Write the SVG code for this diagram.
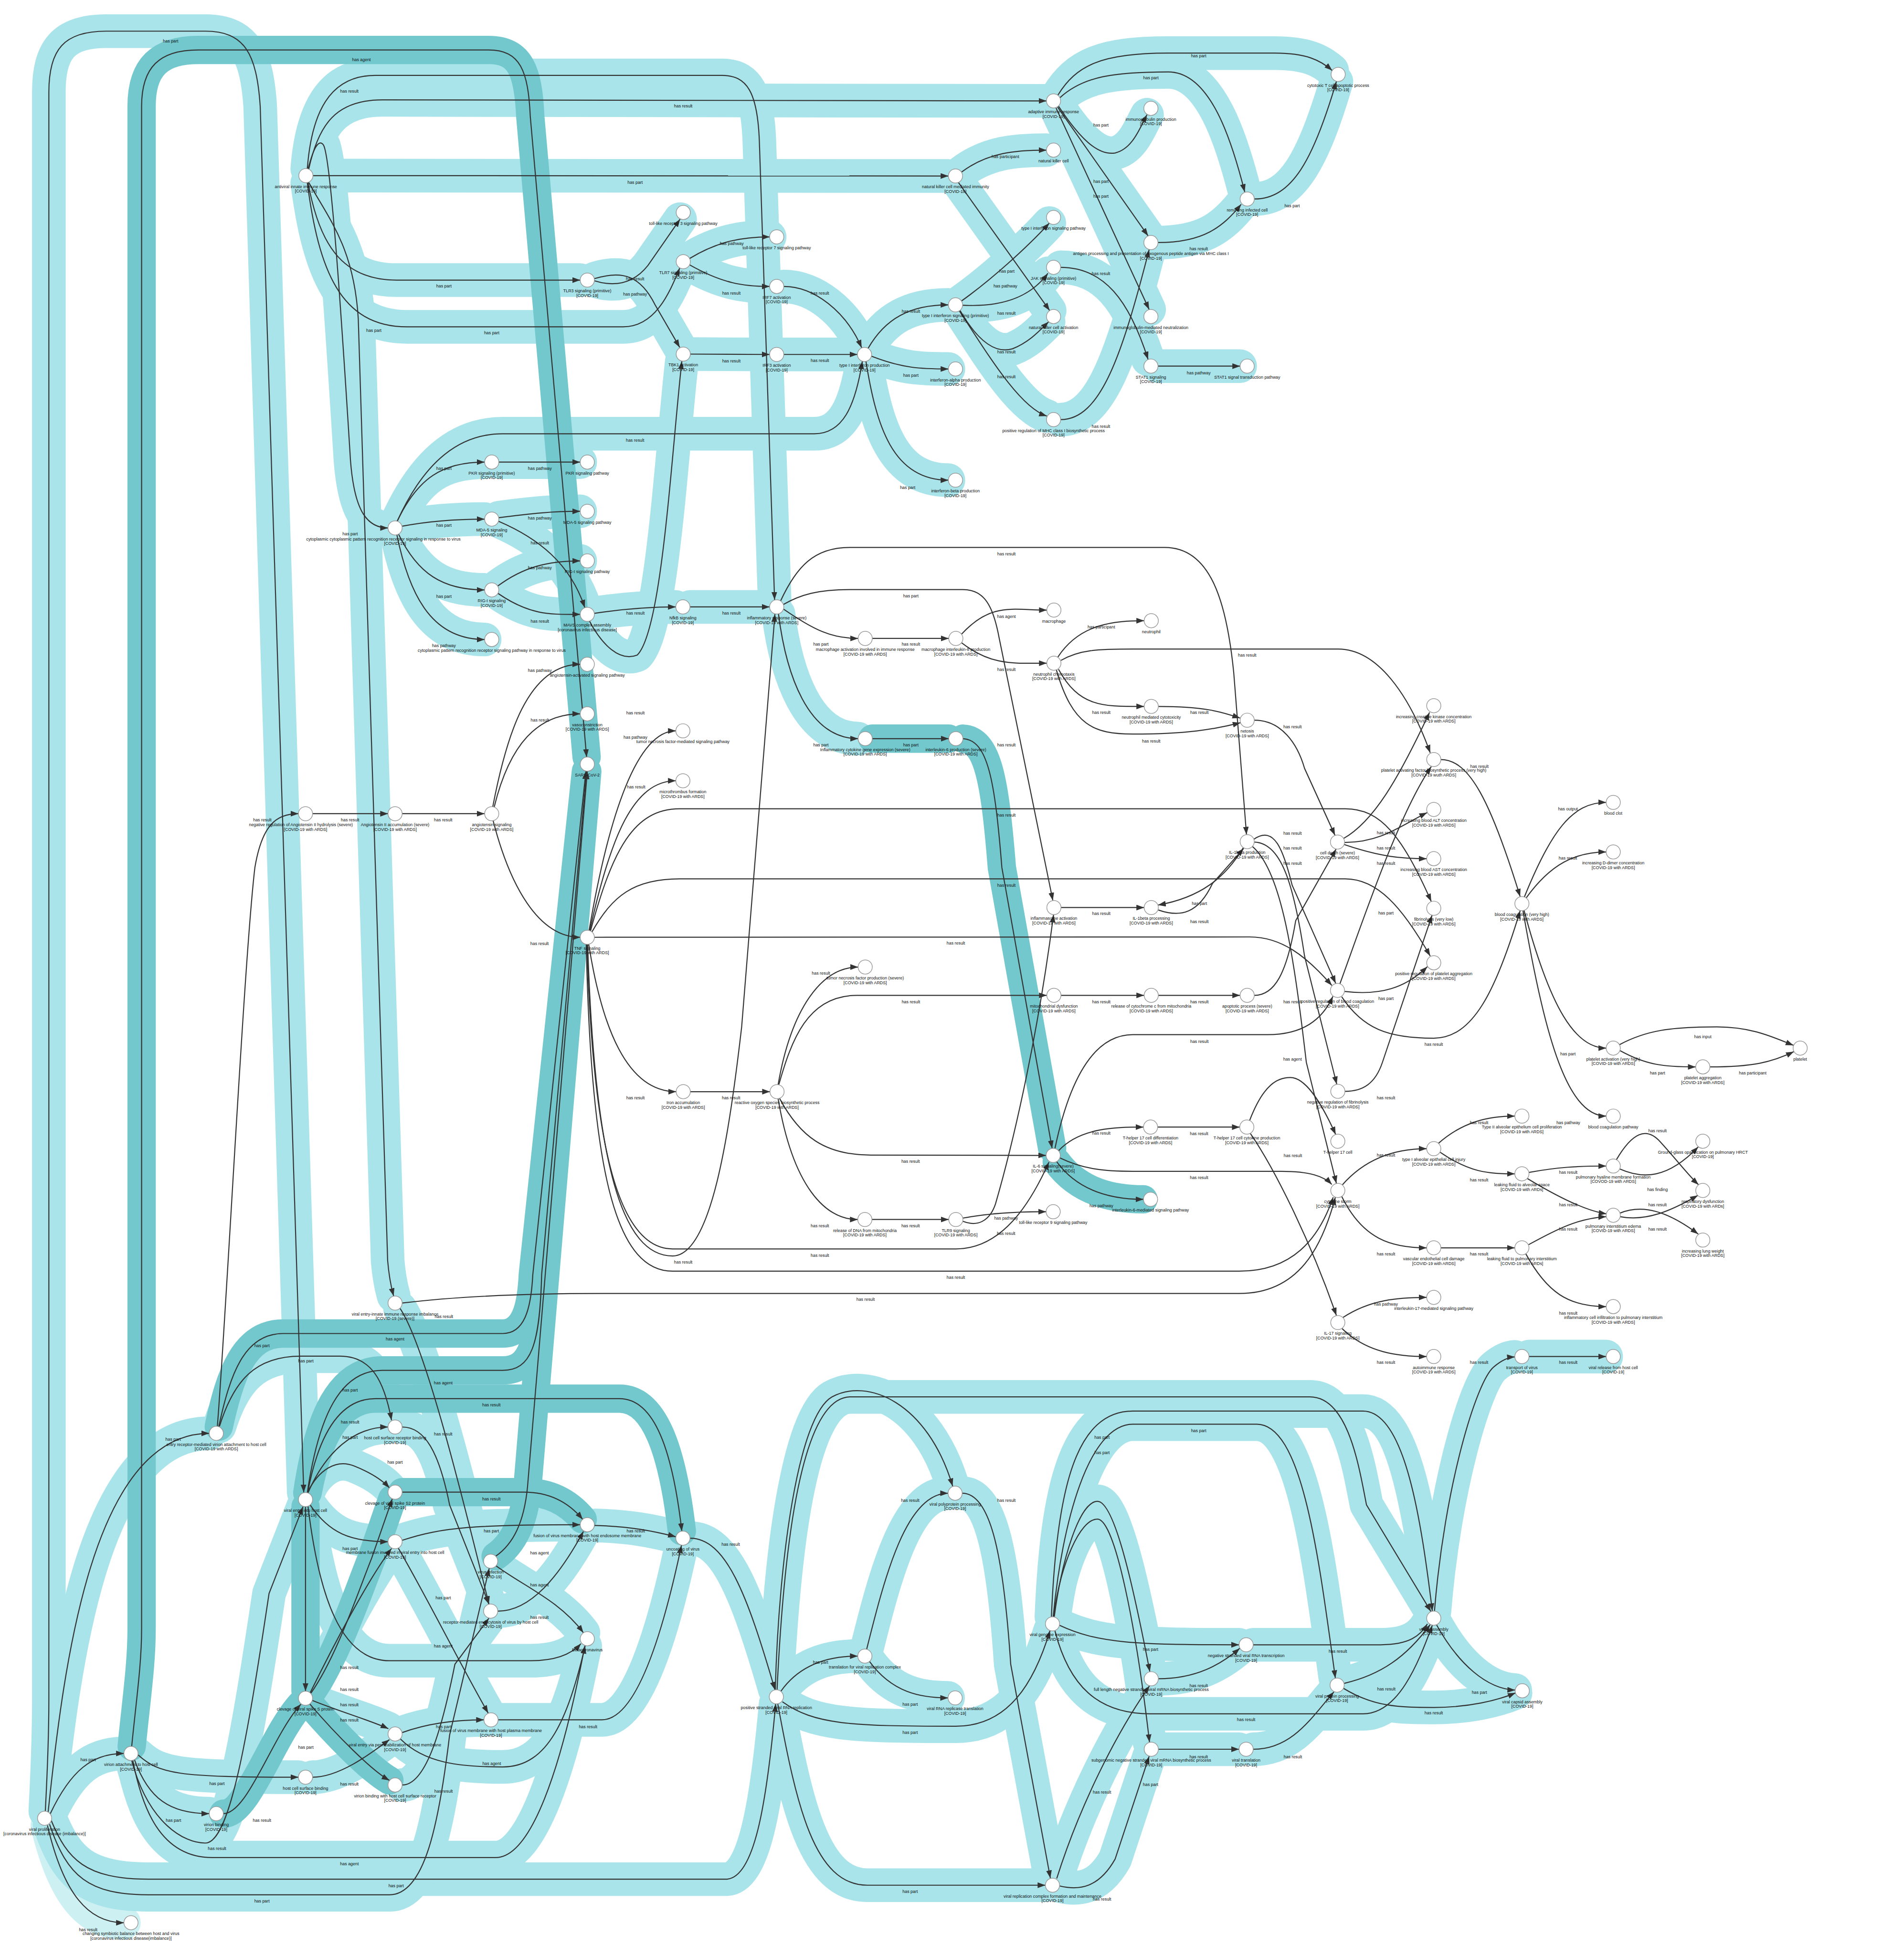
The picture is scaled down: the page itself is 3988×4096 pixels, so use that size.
<svg xmlns="http://www.w3.org/2000/svg" width="3988" height="4096" viewBox="0 0 3988 4096">
<style>
.nd circle{fill:#fff;stroke:#9a9a9a;stroke-width:2}
.nd text,.lb{font-family:"Liberation Sans",Arial,sans-serif;font-size:12px;fill:#111;text-anchor:middle}
.e{fill:none;stroke:#333;stroke-width:3;marker-end:url(#a)}
.bl,.bd,.bp{fill:none;stroke-linecap:round;stroke-linejoin:round}
.bl{stroke:#a8e4e9;stroke-width:95}
.bd{stroke:#73c8cd;stroke-width:80}
.bp{stroke:#cdf0f3;stroke-width:95}
</style>
<defs>
<marker id="a" markerUnits="userSpaceOnUse" markerWidth="24" markerHeight="18" refX="22" refY="8" orient="auto"><path d="M0,0 L22,8 L0,16 z" fill="#333"/></marker>
</defs>
<rect width="3988" height="4096" fill="#fff"/>
<g transform="scale(0.7415)">
<g id="highlights">
<path class="bp" d="M134,5155 C180,5350 250,5430 350,5430"/>
<path class="bl" d="M884,496 L2679,497"/>
<path class="bl" d="M870,515 C900,680 960,791 1120,791 L1639,791"/>
<path class="bl" d="M868,516 C900,760 960,923 1150,923 L1760,923 C1850,923 1890,830 1920,757"/>
<path class="bl" d="M872,478 C900,350 950,282 1080,282 L2956,285"/>
<path class="bl" d="M868,477 C880,320 930,213 1060,213 L2040,213 C2110,213 2140,260 2145,400 L2188,1694"/>
<path class="bl" d="M870,478 C885,420 900,390 914,410 C935,450 965,900 990,1300 C1000,1430 1030,1491 1096,1491"/>
<path class="bl" d="M872,515 C930,620 1000,700 1012,900 L1095,3560 C1100,3620 1108,3645 1112,3660"/>
<path class="bl" d="M128,5115 C134,5000 138,4900 138,4800 L138,260 C138,140 180,88 300,88 L580,88 C690,88 725,150 735,300 L858,4215"/>
<path class="bl" d="M1665,1754 C1700,1820 1750,1870 1800,1850 C1870,1780 1895,1300 1926,1020"/>
<path class="bl" d="M1679,793 C1740,812 1790,800 1830,750 L1921,619"/>
<path class="bl" d="M1679,787 C1760,762 1810,780 1850,860 L1920,981"/>
<path class="bl" d="M1948,730 C2030,680 2100,669 2174,669"/>
<path class="bl" d="M1948,748 C2040,800 2100,809 2174,809"/>
<path class="bl" d="M1950,1000 L2174,1001"/>
<path class="bl" d="M2214,809 C2300,809 2390,880 2434,982"/>
<path class="bl" d="M2214,1001 L2422,1001"/>
<path class="bl" d="M1122,1472 C1200,1300 1300,1225 1420,1225 L2300,1225 C2380,1225 2415,1150 2436,1020"/>
<path class="bl" d="M2452,984 C2500,900 2570,861 2679,861"/>
<path class="bl" d="M2462,1006 C2550,1040 2600,1042 2679,1042"/>
<path class="bl" d="M2446,1020 C2475,1200 2520,1356 2679,1356"/>
<path class="bl" d="M2716,486 C2790,430 2870,424 2956,424"/>
<path class="bl" d="M2707,515 L2965,877"/>
<path class="bl" d="M2716,850 C2800,790 2900,700 2964,630"/>
<path class="bl" d="M2719,862 C2830,868 2910,840 2960,772"/>
<path class="bl" d="M2712,877 C2760,960 2810,1000 2860,985 C2910,965 2940,930 2962,909"/>
<path class="bl" d="M2710,878 C2790,1000 2880,1150 2957,1175"/>
<path class="bl" d="M2996,755 C3120,755 3190,850 3243,1015"/>
<path class="bl" d="M3271,1034 L3503,1034"/>
<path class="bl" d="M2996,1185 C3110,1185 3170,1000 3246,705"/>
<path class="bl" d="M2988,269 C3040,185 3110,150 3300,150 L3600,150 C3690,150 3730,170 3763,199"/>
<path class="bl" d="M2990,300 C3050,390 3100,440 3150,432 C3200,420 3220,360 3240,324"/>
<path class="bl" d="M2994,276 C3060,215 3150,203 3300,203 C3420,203 3480,400 3516,542"/>
<path class="bl" d="M2987,302 L3243,666"/>
<path class="bl" d="M2983,305 L3246,874"/>
<path class="bl" d="M3271,685 C3400,685 3455,640 3506,577"/>
<path class="bl" d="M3543,562 C3650,562 3710,450 3775,230"/>
<path class="bl" d="M1122,1472 C1180,1350 1250,1305 1369,1305"/>
<path class="bl" d="M1136,1486 C1220,1470 1300,1466 1369,1466"/>
<path class="bl" d="M1126,1509 C1180,1620 1250,1666 1369,1666"/>
<path class="bl" d="M1121,1510 C1160,1700 1230,1806 1369,1806"/>
<path class="bl" d="M1409,1305 L1639,1305"/>
<path class="bl" d="M1409,1462 C1500,1450 1560,1444 1639,1444"/>
<path class="bl" d="M1408,1472 C1520,1520 1610,1590 1652,1716"/>
<path class="bl" d="M1406,1655 C1480,1600 1550,1584 1639,1584"/>
<path class="bl" d="M1407,1676 C1500,1740 1560,1735 1639,1735"/>
<path class="bl" d="M1679,1732 C1760,1720 1830,1714 1909,1714"/>
<path class="bl" d="M1949,1714 L2174,1714"/>
<path class="bl" d="M2199,1734 C2220,1900 2280,2086 2424,2086"/>
<path class="bl" d="M4319,3831 L4537,3831"/>
<path class="bl" d="M4052,4550 C4080,4200 4170,3900 4220,3860 C4240,3843 4258,3833 4279,3832"/>
<path class="bl" d="M1949,4344 C2050,4344 2110,4500 2189,4772"/>
<path class="bl" d="M2206,4776 C2260,4700 2340,4677 2423,4677"/>
<path class="bl" d="M2448,4658 C2500,4450 2560,4217 2678,4217"/>
<path class="bl" d="M2456,4692 C2520,4780 2600,4795 2678,4795"/>
<path class="bl" d="M2210,4806 C2300,4870 2400,4875 2700,4875 C2850,4875 2922,4750 2966,4605"/>
<path class="bl" d="M2197,4812 C2250,5100 2300,5324 2450,5324 L2953,5324"/>
<path class="bl" d="M2718,4217 C2800,4217 2835,4400 2855,4700 L2967,5304"/>
<path class="bl" d="M2993,4590 C3100,4640 3200,4645 3500,4645"/>
<path class="bl" d="M2978,4566 C3000,4400 3050,4240 3100,4240 C3150,4240 3205,4500 3248,4721"/>
<path class="bl" d="M2976,4566 C2995,4420 3050,4290 3100,4290 C3150,4290 3210,4600 3247,4920"/>
<path class="bl" d="M2975,4566 C3000,4300 3075,4022 3200,4022 L3550,4022 C3680,4022 3725,4400 3772,4739"/>
<path class="bl" d="M2970,4566 C2985,4200 3040,3985 3200,3985 L3850,3985 C3970,3985 4015,4300 4046,4550"/>
<path class="bl" d="M3272,4741 C3380,4741 3450,4700 3502,4655"/>
<path class="bl" d="M3540,4645 L3900,4645 C3980,4645 4012,4620 4032,4586"/>
<path class="bl" d="M3272,4940 L3500,4940"/>
<path class="bl" d="M3540,4940 C3650,4940 3705,4850 3768,4778"/>
<path class="bl" d="M3797,4754 C3900,4730 3972,4680 4040,4588"/>
<path class="bl" d="M3795,4768 C3880,4820 3950,4822 4050,4822 C4150,4822 4230,4802 4281,4781"/>
<path class="bl" d="M4058,4589 C4120,4700 4200,4770 4280,4773"/>
<path class="bl" d="M2980,4606 C3020,4760 3100,4840 3250,4840 L3850,4840 C3950,4840 4005,4700 4046,4590"/>
<path class="bl" d="M2985,5305 C3050,5100 3150,4900 3247,4761"/>
<path class="bl" d="M2993,5326 C3050,5340 3105,5330 3150,5250 L3246,4960"/>
<path class="bl" d="M2190,4772 C2200,4400 2255,4000 2350,3945 C2450,3890 2620,3960 2691,4197"/>
<path class="bl" d="M2195,4772 C2215,4350 2265,3950 2400,3945 L3700,3945 C3810,3945 3840,4150 3860,4250 L4042,4551"/>
<path class="bl" d="M136,5117 C180,4700 260,4048 591,4048"/>
<path class="bl" d="M142,5122 C200,5000 260,4952 350,4952"/>
<path class="bl" d="M145,5142 C190,5250 240,5307 420,5307 L2050,5307 C2130,5307 2165,5100 2191,4812"/>
<path class="bl" d="M140,5152 C190,5300 250,5351 420,5351 L1100,5351 C1200,5351 1240,5150 1270,4900 L1382,4429"/>
<path class="bl" d="M375,4971 C400,5100 450,5246 600,5246 L1400,5246 C1500,5246 1585,5000 1652,4648"/>
<path class="bl" d="M390,4956 C450,5010 500,5019 843,5019"/>
<path class="bl" d="M380,4970 C420,5080 480,5122 591,5122"/>
<path class="bl" d="M372,4972 C420,5150 520,5205 580,5205 C650,5205 700,4900 760,4500 L856,4255"/>
<path class="bl" d="M883,5019 C960,5019 1050,4950 1100,4913"/>
<path class="bl" d="M882,4802 C950,4830 1050,4860 1097,4882"/>
<path class="bl" d="M876,4781 C940,4650 1040,4460 1106,4373"/>
<path class="bl" d="M1136,4893 C1200,4870 1280,4857 1367,4857"/>
<path class="bl" d="M1131,4911 C1200,4980 1300,4990 1420,4990 C1550,4990 1605,4850 1653,4648"/>
<path class="bl" d="M1136,5041 C1200,5041 1245,4900 1285,4700 L1381,4570"/>
<path class="bl" d="M1407,4857 L1700,4857 C1800,4857 1875,4600 1925,4364"/>
<path class="bl" d="M620,4028 C660,3900 720,3830 850,3830 L960,3830 C1050,3830 1085,3900 1106,4011"/>
<path class="bl" d="M868,4216 C900,4150 950,4120 1000,4140 C1050,4160 1080,4180 1100,4202"/>
<path class="bl" d="M876,4250 C930,4330 990,4354 1096,4354"/>
<path class="bl" d="M870,4216 C920,4100 1000,4030 1096,4030"/>
<path class="bl" d="M1136,4030 C1200,4030 1240,4100 1270,4250 L1381,4530"/>
<path class="bl" d="M1136,4350 C1250,4312 1350,4306 1639,4306"/>
<path class="bl" d="M1125,4372 C1200,4500 1300,4700 1379,4838"/>
<path class="bl" d="M1401,4422 C1480,4480 1580,4520 1648,4611"/>
<path class="bl" d="M1406,4550 C1500,4550 1580,4450 1648,4325"/>
<path class="bl" d="M1679,4308 C1780,4310 1850,4325 1909,4340"/>
<path class="bl" d="M870,4254 C900,4500 960,4690 1100,4690 L1500,4690 C1580,4690 1620,4665 1641,4642"/>
<path class="bl" d="M1130,3695 C1200,3800 1300,4200 1381,4530"/>
<path class="bd" d="M372,4932 C385,4800 400,4700 400,4600 L400,300 C400,190 450,141 560,141 L1380,141 C1470,141 1492,200 1498,330 L1657,2138"/>
<path class="bd" d="M618,4029 C650,3880 690,3766 800,3766 L1420,3766 C1480,3766 1500,3700 1505,3600 L1655,2178"/>
<path class="bd" d="M868,4216 C900,4000 960,3870 1080,3870 L1420,3870 C1500,3870 1525,3800 1530,3600 L1657,2178"/>
<path class="bd" d="M1400,4395 C1450,4360 1480,4300 1490,4200 L1659,2178"/>
<path class="bd" d="M2464,2086 L2680,2086"/>
<path class="bd" d="M2720,2086 C2790,2090 2810,2200 2830,2450 L2972,3243"/>
<path class="bd" d="M2985,3281 C3050,3370 3150,3387 3230,3387"/>
<path class="bd" d="M631,5122 C700,5122 770,4900 850,4813"/>
<path class="bd" d="M875,4812 C950,4900 1050,5000 1100,5028"/>
<path class="bd" d="M878,4782 C950,4680 1010,4500 1050,4400 L1108,4233"/>
<path class="bd" d="M863,4255 L863,4776"/>
<path class="bd" d="M1136,4214 L1480,4214 C1560,4214 1612,4250 1646,4291"/>
<path class="bd" d="M869,4216 C900,4050 960,3950 1060,3950 L1750,3950 C1850,3950 1900,4100 1926,4324"/>
</g>
<g id="connectors">
<g><path class="e" d="M884,496 L2679,497"/><text class="lb" x="1794" y="519">has part</text></g>
<g><path class="e" d="M870,515 C900,680 960,791 1120,791 L1639,791"/><text class="lb" x="1254" y="812">has part</text></g>
<g><path class="e" d="M868,516 C900,760 960,923 1150,923 L1760,923 C1850,923 1890,830 1920,757"/><text class="lb" x="1389" y="944">has part</text></g>
<g><path class="e" d="M872,478 C900,350 950,282 1080,282 L2956,285"/><text class="lb" x="1930" y="304">has result</text></g>
<g><path class="e" d="M868,477 C880,320 930,213 1060,213 L2040,213 C2110,213 2140,260 2145,400 L2188,1694"/><text class="lb" x="987" y="261">has result</text></g>
<g><path class="e" d="M870,478 C885,420 900,390 914,410 C935,450 965,900 990,1300 C1000,1430 1030,1491 1096,1491"/><text class="lb" x="989" y="1512">has part</text></g>
<g><path class="e" d="M872,515 C930,620 1000,700 1012,900 L1095,3560 C1100,3620 1108,3645 1112,3660"/><text class="lb" x="1056" y="937">has part</text></g>
<g><path class="e" d="M128,5115 C134,5000 138,4900 138,4800 L138,260 C138,140 180,88 300,88 L580,88 C690,88 725,150 735,300 L858,4215"/><text class="lb" x="482" y="120">has part</text></g>
<g><path class="e" d="M372,4932 C385,4800 400,4700 400,4600 L400,300 C400,190 450,141 560,141 L1380,141 C1470,141 1492,200 1498,330 L1657,2138"/><text class="lb" x="1021" y="173">has agent</text></g>
<g><path class="e" d="M618,4029 C650,3880 690,3766 800,3766 L1420,3766 C1480,3766 1500,3700 1505,3600 L1655,2178"/><text class="lb" x="1116" y="3785">has agent</text><text class="lb" x="740" y="3805">has part</text></g>
<g><path class="e" d="M868,4216 C900,4000 960,3870 1080,3870 L1420,3870 C1500,3870 1525,3800 1530,3600 L1657,2178"/><text class="lb" x="1252" y="3910">has agent</text></g>
<g><path class="e" d="M1400,4395 C1450,4360 1480,4300 1490,4200 L1659,2178"/><text class="lb" x="1524" y="4390">has agent</text></g>
<g><path class="e" d="M1665,1754 C1700,1820 1750,1870 1800,1850 C1870,1780 1895,1300 1926,1020"/></g>
<g><path class="e" d="M1679,793 C1740,812 1790,800 1830,750 L1921,619"/><text class="lb" x="1794" y="835">has pathway</text></g>
<g><path class="e" d="M1679,787 C1760,762 1810,780 1850,860 L1920,981"/><text class="lb" x="1794" y="791">has result</text></g>
<g><path class="e" d="M1948,730 C2030,680 2100,669 2174,669"/><text class="lb" x="2067" y="692">has pathway</text></g>
<g><path class="e" d="M1948,748 C2040,800 2100,809 2174,809"/><text class="lb" x="2066" y="832">has result</text></g>
<g><path class="e" d="M1950,1000 L2174,1001"/><text class="lb" x="2066" y="1023">has result</text></g>
<g><path class="e" d="M2214,809 C2300,809 2390,880 2434,982"/><text class="lb" x="2316" y="832">has result</text></g>
<g><path class="e" d="M2214,1001 L2422,1001"/><text class="lb" x="2316" y="1022">has result</text></g>
<g><path class="e" d="M1122,1472 C1200,1300 1300,1225 1420,1225 L2300,1225 C2380,1225 2415,1150 2436,1020"/><text class="lb" x="1794" y="1247">has result</text></g>
<g><path class="e" d="M2452,984 C2500,900 2570,861 2679,861"/><text class="lb" x="2573" y="884">has result</text></g>
<g><path class="e" d="M2462,1006 C2550,1040 2600,1042 2679,1042"/><text class="lb" x="2573" y="1064">has part</text></g>
<g><path class="e" d="M2446,1020 C2475,1200 2520,1356 2679,1356"/><text class="lb" x="2564" y="1381">has part</text></g>
<g><path class="e" d="M2716,486 C2790,430 2870,424 2956,424"/><text class="lb" x="2840" y="447">has participant</text></g>
<g><path class="e" d="M2707,515 L2965,877"/><text class="lb" x="2844" y="770">has part</text></g>
<g><path class="e" d="M2716,850 C2800,790 2900,700 2964,630"/><text class="lb" x="2840" y="812">has pathway</text></g>
<g><path class="e" d="M2719,862 C2830,868 2910,840 2960,772"/><text class="lb" x="2843" y="889">has result</text></g>
<g><path class="e" d="M2712,877 C2760,960 2810,1000 2860,985 C2910,965 2940,930 2962,909"/><text class="lb" x="2843" y="998">has result</text></g>
<g><path class="e" d="M2710,878 C2790,1000 2880,1150 2957,1175"/><text class="lb" x="2843" y="1068">has result</text></g>
<g><path class="e" d="M2996,755 C3120,755 3190,850 3243,1015"/><text class="lb" x="3110" y="777">has result</text></g>
<g><path class="e" d="M3271,1034 L3503,1034"/><text class="lb" x="3386" y="1057">has pathway</text></g>
<g><path class="e" d="M2996,1185 C3110,1185 3170,1000 3246,705"/><text class="lb" x="3110" y="1208">has result</text></g>
<g><path class="e" d="M2988,269 C3040,185 3110,150 3300,150 L3600,150 C3690,150 3730,170 3763,199"/><text class="lb" x="3386" y="162">has part</text></g>
<g><path class="e" d="M2990,300 C3050,390 3100,440 3150,432 C3200,420 3220,360 3240,324"/><text class="lb" x="3110" y="357">has part</text></g>
<g><path class="e" d="M2994,276 C3060,215 3150,203 3300,203 C3420,203 3480,400 3516,542"/><text class="lb" x="3251" y="224">has part</text></g>
<g><path class="e" d="M2987,302 L3243,666"/><text class="lb" x="3110" y="517">has part</text></g>
<g><path class="e" d="M2983,305 L3246,874"/><text class="lb" x="3110" y="559">has part</text></g>
<g><path class="e" d="M3271,685 C3400,685 3455,640 3506,577"/><text class="lb" x="3386" y="707">has result</text></g>
<g><path class="e" d="M3543,562 C3650,562 3710,450 3775,230"/><text class="lb" x="3650" y="585">has part</text></g>
<g><path class="e" d="M1122,1472 C1180,1350 1250,1305 1369,1305"/><text class="lb" x="1254" y="1327">has part</text></g>
<g><path class="e" d="M1136,1486 C1220,1470 1300,1466 1369,1466"/><text class="lb" x="1254" y="1488">has part</text></g>
<g><path class="e" d="M1126,1509 C1180,1620 1250,1666 1369,1666"/><text class="lb" x="1254" y="1688">has part</text></g>
<g><path class="e" d="M1121,1510 C1160,1700 1230,1806 1369,1806"/><text class="lb" x="1254" y="1828">has pathway</text></g>
<g><path class="e" d="M1409,1305 L1639,1305"/><text class="lb" x="1525" y="1327">has pathway</text></g>
<g><path class="e" d="M1409,1462 C1500,1450 1560,1444 1639,1444"/><text class="lb" x="1525" y="1467">has pathway</text></g>
<g><path class="e" d="M1408,1472 C1520,1520 1610,1590 1652,1716"/><text class="lb" x="1525" y="1537">has result</text></g>
<g><path class="e" d="M1406,1655 C1480,1600 1550,1584 1639,1584"/><text class="lb" x="1525" y="1607">has pathway</text></g>
<g><path class="e" d="M1407,1676 C1500,1740 1560,1735 1639,1735"/><text class="lb" x="1525" y="1758">has result</text></g>
<g><path class="e" d="M1679,1732 C1760,1720 1830,1714 1909,1714"/><text class="lb" x="1795" y="1736">has result</text></g>
<g><path class="e" d="M1949,1714 L2174,1714"/><text class="lb" x="2066" y="1736">has result</text></g>
<g><path class="e" d="M614,4028 C640,3700 690,2700 720,2450 C740,2330 780,2298 843,2298"/><text class="lb" x="741" y="2320">has result</text></g>
<g><path class="e" d="M883,2298 L1096,2298"/><text class="lb" x="989" y="2320">has result</text></g>
<g><path class="e" d="M1136,2298 L1369,2298"/><text class="lb" x="1252" y="2320">has result</text></g>
<g><path class="e" d="M1392,2278 C1430,2080 1490,1876 1639,1876"/><text class="lb" x="1525" y="1898">has pathway</text></g>
<g><path class="e" d="M1396,2279 C1440,2100 1520,2016 1639,2016"/><text class="lb" x="1525" y="2038">has result</text></g>
<g><path class="e" d="M1393,2318 C1440,2500 1520,2647 1639,2647"/><text class="lb" x="1524" y="2669">has result</text></g>
<g><path class="e" d="M1664,2628 C1720,2300 1800,2064 1909,2064"/><text class="lb" x="1795" y="2086">has pathway</text></g>
<g><path class="e" d="M1666,2628 C1725,2360 1790,2205 1909,2205"/><text class="lb" x="1797" y="2227">has result</text><text class="lb" x="1795" y="2017">has result</text></g>
<g><path class="e" d="M1668,2629 C1730,2400 1790,2284 1920,2284 L3800,2284 C3900,2284 3960,2360 4043,2546"/><text class="lb" x="2843" y="2306">has result</text></g>
<g><path class="e" d="M1672,2632 C1730,2530 1790,2482 1920,2482 L3800,2482 C3890,2482 3960,2560 4040,2700"/><text class="lb" x="2843" y="2505">has result</text></g>
<g><path class="e" d="M1679,2647 L3530,2646 C3620,2646 3690,2700 3762,2783"/><text class="lb" x="2700" y="2667">has result</text></g>
<g><path class="e" d="M1663,2667 C1700,2900 1770,3083 1910,3083"/><text class="lb" x="1795" y="3105">has result</text></g>
<g><path class="e" d="M1660,2667 C1680,3300 1760,3547 1900,3547 C2010,3547 2060,3200 2095,2900 L2189,1734"/><text class="lb" x="1930" y="3569">has result</text></g>
<g><path class="e" d="M1658,2667 C1675,3250 1750,3527 1900,3527 L2700,3527 C2830,3527 2910,3400 2963,3282"/><text class="lb" x="2316" y="3549">has result</text></g>
<g><path class="e" d="M1656,2667 C1670,3350 1750,3590 1900,3590 L3500,3590 C3650,3590 3725,3500 3766,3381"/><text class="lb" x="2700" y="3612">has result</text></g>
<g><path class="e" d="M1136,3680 C1300,3660 1500,3653 1700,3653 L3500,3653 C3670,3653 3735,3520 3772,3381"/><text class="lb" x="2445" y="3674">has result</text></g>
<g><path class="e" d="M2213,1720 C2300,1780 2350,1803 2424,1803"/><text class="lb" x="2319" y="1824">has part</text></g>
<g><path class="e" d="M2464,1803 L2680,1803"/><text class="lb" x="2573" y="1824">has result</text></g>
<g><path class="e" d="M2716,1791 C2800,1700 2860,1723 2957,1723"/><text class="lb" x="2843" y="1745">has agent</text></g>
<g><path class="e" d="M2716,1815 C2800,1880 2860,1873 2957,1873"/><text class="lb" x="2843" y="1895">has result</text></g>
<g><path class="e" d="M2988,1856 C3050,1760 3150,1753 3232,1753"/><text class="lb" x="3111" y="1775">has participant</text></g>
<g><path class="e" d="M2997,1865 C3050,1835 3100,1833 3200,1833 L3780,1833 C3890,1833 3980,1960 4040,2126"/><text class="lb" x="3523" y="1854">has result</text></g>
<g><path class="e" d="M2990,1890 C3050,2000 3120,1995 3232,1995"/><text class="lb" x="3111" y="2016">has result</text></g>
<g><path class="e" d="M2984,1892 C3030,2050 3090,2073 3200,2073 C3350,2073 3430,2060 3504,2041"/><text class="lb" x="3252" y="2097">has result</text></g>
<g><path class="e" d="M3272,1995 C3400,1995 3450,2010 3503,2028"/><text class="lb" x="3388" y="2016">has result</text></g>
<g><path class="e" d="M3543,2034 C3620,2034 3665,2100 3685,2170 L3771,2359"/><text class="lb" x="3651" y="2057">has result</text></g>
<g><path class="e" d="M2205,1697 C2250,1600 2300,1546 2400,1546 L3290,1546 C3420,1546 3465,1700 3485,1900 L3521,2357"/><text class="lb" x="2843" y="1568">has result</text></g>
<g><path class="e" d="M2213,1707 C2260,1680 2310,1665 2400,1665 L2720,1665 C2780,1665 2805,1710 2822,1800 L2974,2543"/><text class="lb" x="2573" y="1687">has part</text></g>
<g><path class="e" d="M2199,1734 C2220,1900 2280,2086 2424,2086"/><text class="lb" x="2319" y="2108">has part</text></g>
<g><path class="e" d="M2464,2086 L2680,2086"/><text class="lb" x="2573" y="2108">has part</text></g>
<g><path class="e" d="M2720,2086 C2790,2090 2810,2200 2830,2450 L2972,3243"/><text class="lb" x="2843" y="2108">has result</text></g>
<g><path class="e" d="M2990,3250 C3050,3185 3150,3183 3230,3183"/><text class="lb" x="3111" y="3204">has result</text></g>
<g><path class="e" d="M2985,3281 C3050,3370 3150,3387 3230,3387"/><text class="lb" x="3111" y="3409">has pathway</text></g>
<g><path class="e" d="M2994,3270 C3060,3302 3120,3308 3200,3308 L3620,3308 C3700,3308 3740,3322 3762,3345"/><text class="lb" x="3387" y="3330">has result</text></g>
<g><path class="e" d="M2980,3243 C3010,3100 3070,2922 3200,2922 L3580,2922 C3680,2922 3735,2880 3765,2814"/><text class="lb" x="3388" y="2945">has result</text></g>
<g><path class="e" d="M2200,3063 C2235,2940 2280,2811 2420,2811 L2957,2811"/><text class="lb" x="2573" y="2833">has result</text></g>
<g><path class="e" d="M2198,3063 C2235,2850 2320,2731 2424,2731"/><text class="lb" x="2319" y="2752">has result</text></g>
<g><path class="e" d="M2202,3102 C2260,3210 2330,3262 2460,3262 L2955,3263"/><text class="lb" x="2572" y="3284">has result</text></g>
<g><path class="e" d="M2198,3103 C2240,3350 2330,3444 2423,3444"/><text class="lb" x="2316" y="3466">has result</text></g>
<g><path class="e" d="M1950,3083 L2175,3083"/><text class="lb" x="2065" y="3105">has result</text></g>
<g><path class="e" d="M2463,3444 L2680,3444"/><text class="lb" x="2572" y="3466">has result</text></g>
<g><path class="e" d="M2720,3440 C2800,3425 2880,3422 2955,3422"/><text class="lb" x="2842" y="3444">has pathway</text></g>
<g><path class="e" d="M2720,3449 C2760,3465 2795,3450 2812,3400 C2870,3200 2935,2900 2976,2583"/><text class="lb" x="2842" y="3487">has result</text></g>
<g><path class="e" d="M2997,2563 L3232,2563"/><text class="lb" x="3111" y="2584">has result</text></g>
<g><path class="e" d="M3512,2394 C3460,2480 3390,2535 3271,2556"/><text class="lb" x="3388" y="2555">has part</text></g>
<g><path class="e" d="M3272,2570 C3335,2592 3385,2580 3425,2495 L3513,2396"/><text class="lb" x="3388" y="2607">has result</text></g>
<g><path class="e" d="M2997,2811 L3232,2811"/><text class="lb" x="3111" y="2833">has result</text></g>
<g><path class="e" d="M3272,2811 L3503,2811"/><text class="lb" x="3388" y="2833">has result</text></g>
<g><path class="e" d="M3543,2811 C3600,2811 3635,2750 3660,2600 L3774,2398"/><text class="lb" x="3651" y="2833">has result</text></g>
<g><path class="e" d="M3542,2370 C3600,2330 3625,2400 3650,2500 L3773,2777"/><text class="lb" x="3651" y="2357">has result</text></g>
<g><path class="e" d="M3543,2378 C3620,2380 3655,2500 3685,2700 L3776,3062"/><text class="lb" x="3651" y="2399">has result</text></g>
<g><path class="e" d="M3538,2391 C3620,2460 3655,2700 3690,3000 L3775,3342"/><text class="lb" x="3651" y="2443">has result</text></g>
<g><path class="e" d="M3798,2379 C3900,2380 3960,2330 4031,2295"/><text class="lb" x="3915" y="2356">has result</text></g>
<g><path class="e" d="M3797,2385 C3900,2420 3960,2425 4030,2425"/><text class="lb" x="3915" y="2399">has result</text></g>
<g><path class="e" d="M3795,2368 C3880,2320 3950,2200 4038,2012"/><text class="lb" x="3915" y="2443">has result</text></g>
<g><path class="e" d="M4070,2145 C4150,2145 4210,2260 4294,2532"/><text class="lb" x="4179" y="2168">has result</text></g>
<g><path class="e" d="M4306,2533 C4380,2350 4440,2266 4537,2266"/><text class="lb" x="4429" y="2288">has output</text></g>
<g><path class="e" d="M4311,2536 C4380,2440 4450,2406 4537,2406"/><text class="lb" x="4429" y="2427">has result</text></g>
<g><path class="e" d="M4305,2571 C4380,2850 4450,2960 4537,2960"/><text class="lb" x="4429" y="2981">has part</text></g>
<g><path class="e" d="M4302,2572 C4360,2900 4420,3152 4537,3152"/><text class="lb" x="4430" y="3174">has pathway</text></g>
<g><path class="e" d="M3785,2778 C3850,2600 3950,2300 4043,2165"/><text class="lb" x="3915" y="2582">has part</text></g>
<g><path class="e" d="M3798,2800 C3900,2812 3970,2790 4032,2730"/><text class="lb" x="3915" y="2824">has part</text></g>
<g><path class="e" d="M3790,2815 C3850,2905 3920,2932 4050,2932 C4160,2932 4225,2800 4294,2572"/><text class="lb" x="4050" y="2954">has result</text></g>
<g><path class="e" d="M3799,3082 C3850,3082 3885,3060 3905,3000 L4045,2585"/><text class="lb" x="3915" y="3104">has result</text></g>
<g><path class="e" d="M4575,2950 C4650,2910 4720,2900 4850,2900 C4950,2900 5010,2930 5066,2952"/><text class="lb" x="4810" y="2932">has input</text></g>
<g><path class="e" d="M4576,2967 C4650,3008 4700,3013 4790,3013"/><text class="lb" x="4682" y="3034">has part</text></g>
<g><path class="e" d="M4830,3013 C4950,3013 5005,3000 5067,2970"/><text class="lb" x="4951" y="3034">has participant</text></g>
<g><path class="e" d="M3270,3183 L3502,3183"/><text class="lb" x="3387" y="3205">has result</text></g>
<g><path class="e" d="M3530,3164 C3570,3060 3610,3043 3645,3043 C3690,3043 3735,3120 3773,3204"/><text class="lb" x="3651" y="2995">has agent</text></g>
<g><path class="e" d="M3532,3201 C3600,3300 3700,3500 3775,3715"/><text class="lb" x="3652" y="3268">has result</text></g>
<g><path class="e" d="M3792,3346 C3850,3280 3930,3244 4030,3244"/><text class="lb" x="3915" y="3267">has result</text></g>
<g><path class="e" d="M3790,3379 C3850,3500 3930,3524 4030,3524"/><text class="lb" x="3915" y="3546">has result</text></g>
<g><path class="e" d="M4063,3229 C4130,3170 4200,3152 4279,3152"/><text class="lb" x="4178" y="3174">has result</text></g>
<g><path class="e" d="M4068,3254 C4150,3310 4200,3315 4279,3315"/><text class="lb" x="4178" y="3337">has result</text></g>
<g><path class="e" d="M4319,3311 C4400,3296 4460,3293 4537,3293"/><text class="lb" x="4430" y="3315">has result</text></g>
<g><path class="e" d="M4314,3328 C4400,3380 4480,3420 4538,3428"/><text class="lb" x="4430" y="3407">has result</text></g>
<g><path class="e" d="M4070,3524 L4279,3524"/><text class="lb" x="4178" y="3546">has result</text></g>
<g><path class="e" d="M4318,3515 C4400,3470 4460,3440 4537,3436"/><text class="lb" x="4430" y="3476">has result</text></g>
<g><path class="e" d="M4310,3541 C4370,3650 4430,3690 4537,3690"/><text class="lb" x="4430" y="3713">has result</text></g>
<g><path class="e" d="M4566,3275 C4610,3200 4650,3180 4690,3225 C4740,3280 4770,3320 4798,3346"/><text class="lb" x="4682" y="3197">has result</text></g>
<g><path class="e" d="M4575,3301 C4640,3330 4710,3330 4797,3239"/><text class="lb" x="4682" y="3363">has finding</text></g>
<g><path class="e" d="M4577,3436 C4650,3450 4720,3420 4796,3376"/><text class="lb" x="4682" y="3407">has result</text></g>
<g><path class="e" d="M4576,3426 C4640,3400 4710,3420 4797,3485"/><text class="lb" x="4682" y="3476">has result</text></g>
<g><path class="e" d="M3793,3721 C3870,3670 3950,3664 4030,3664"/><text class="lb" x="3915" y="3687">has pathway</text></g>
<g><path class="e" d="M3791,3752 C3860,3820 3950,3831 4030,3831"/><text class="lb" x="3915" y="3852">has result</text></g>
<g><path class="e" d="M4319,3831 L4537,3831"/><text class="lb" x="4430" y="3852">has result</text></g>
<g><path class="e" d="M4052,4550 C4080,4200 4170,3900 4220,3860 C4240,3843 4258,3833 4279,3832"/><text class="lb" x="4178" y="3852">has result</text></g>
<g><path class="e" d="M1949,4344 C2050,4344 2110,4500 2189,4772"/><text class="lb" x="2064" y="4366">has result</text></g>
<g><path class="e" d="M2206,4776 C2260,4700 2340,4677 2423,4677"/><text class="lb" x="2318" y="4698">has part</text></g>
<g><path class="e" d="M2448,4658 C2500,4450 2560,4217 2678,4217"/><text class="lb" x="2571" y="4241">has result</text></g>
<g><path class="e" d="M2456,4692 C2520,4780 2600,4795 2678,4795"/><text class="lb" x="2571" y="4817">has part</text></g>
<g><path class="e" d="M2210,4806 C2300,4870 2400,4875 2700,4875 C2850,4875 2922,4750 2966,4605"/><text class="lb" x="2571" y="4897">has part</text></g>
<g><path class="e" d="M2197,4812 C2250,5100 2300,5324 2450,5324 L2953,5324"/><text class="lb" x="2571" y="5346">has part</text></g>
<g><path class="e" d="M2718,4217 C2800,4217 2835,4400 2855,4700 L2967,5304"/><text class="lb" x="2843" y="4241">has result</text></g>
<g><path class="e" d="M2993,4590 C3100,4640 3200,4645 3500,4645"/><text class="lb" x="3250" y="4662">has part</text></g>
<g><path class="e" d="M2978,4566 C3000,4400 3050,4240 3100,4240 C3150,4240 3205,4500 3248,4721"/><text class="lb" x="3113" y="4107">has part</text></g>
<g><path class="e" d="M2976,4566 C2995,4420 3050,4290 3100,4290 C3150,4290 3210,4600 3247,4920"/><text class="lb" x="3250" y="5044">has part</text></g>
<g><path class="e" d="M2975,4566 C3000,4300 3075,4022 3200,4022 L3550,4022 C3680,4022 3725,4400 3772,4739"/><text class="lb" x="3386" y="4044">has part</text></g>
<g><path class="e" d="M2970,4566 C2985,4200 3040,3985 3200,3985 L3850,3985 C3970,3985 4015,4300 4046,4550"/><text class="lb" x="3113" y="4064">has part</text></g>
<g><path class="e" d="M3272,4741 C3380,4741 3450,4700 3502,4655"/><text class="lb" x="3386" y="4765">has result</text></g>
<g><path class="e" d="M3540,4645 L3900,4645 C3980,4645 4012,4620 4032,4586"/><text class="lb" x="3779" y="4667">has result</text></g>
<g><path class="e" d="M3272,4940 L3500,4940"/><text class="lb" x="3386" y="4966">has result</text></g>
<g><path class="e" d="M3540,4940 C3650,4940 3705,4850 3768,4778"/><text class="lb" x="3652" y="4966">has result</text></g>
<g><path class="e" d="M3797,4754 C3900,4730 3972,4680 4040,4588"/><text class="lb" x="3916" y="4774">has result</text></g>
<g><path class="e" d="M3795,4768 C3880,4820 3950,4822 4050,4822 C4150,4822 4230,4802 4281,4781"/><text class="lb" x="4050" y="4842">has result</text></g>
<g><path class="e" d="M4058,4589 C4120,4700 4200,4770 4280,4773"/><text class="lb" x="4179" y="4784">has part</text></g>
<g><path class="e" d="M2980,4606 C3020,4760 3100,4840 3250,4840 L3850,4840 C3950,4840 4005,4700 4046,4590"/><text class="lb" x="3520" y="4861">has result</text></g>
<g><path class="e" d="M2985,5305 C3050,5100 3150,4900 3247,4761"/><text class="lb" x="3113" y="5065">has result</text></g>
<g><path class="e" d="M2993,5326 C3050,5340 3105,5330 3150,5250 L3246,4960"/><text class="lb" x="3113" y="5368">has result</text></g>
<g><path class="e" d="M2190,4772 C2200,4400 2255,4000 2350,3945 C2450,3890 2620,3960 2691,4197"/></g>
<g><path class="e" d="M2195,4772 C2215,4350 2265,3950 2400,3945 L3700,3945 C3810,3945 3840,4150 3860,4250 L4042,4551"/></g>
<g><path class="e" d="M136,5117 C180,4700 260,4048 591,4048"/><text class="lb" x="489" y="4069">has part</text></g>
<g><path class="e" d="M134,5155 C180,5350 250,5430 350,5430"/><text class="lb" x="249" y="5454">has result</text></g>
<g><path class="e" d="M142,5122 C200,5000 260,4952 350,4952"/><text class="lb" x="249" y="4974">has part</text></g>
<g><path class="e" d="M145,5142 C190,5250 240,5307 420,5307 L2050,5307 C2130,5307 2165,5100 2191,4812"/><text class="lb" x="1119" y="5330">has part</text></g>
<g><path class="e" d="M140,5152 C190,5300 250,5351 420,5351 L1100,5351 C1200,5351 1240,5150 1270,4900 L1382,4429"/><text class="lb" x="740" y="5373">has part</text></g>
<g><path class="e" d="M375,4971 C400,5100 450,5246 600,5246 L1400,5246 C1500,5246 1585,5000 1652,4648"/><text class="lb" x="987" y="5268">has agent</text></g>
<g><path class="e" d="M390,4956 C450,5010 500,5019 843,5019"/><text class="lb" x="613" y="5041">has part</text></g>
<g><path class="e" d="M380,4970 C420,5080 480,5122 591,5122"/><text class="lb" x="490" y="5145">has part</text></g>
<g><path class="e" d="M372,4972 C420,5150 520,5205 580,5205 C650,5205 700,4900 760,4500 L856,4255"/><text class="lb" x="613" y="5224">has result</text></g>
<g><path class="e" d="M631,5122 C700,5122 770,4900 850,4813"/><text class="lb" x="740" y="5145">has result</text><text class="lb" x="864" y="4938">has part</text></g>
<g><path class="e" d="M883,5019 C960,5019 1050,4950 1100,4913"/><text class="lb" x="987" y="5042">has result</text></g>
<g><path class="e" d="M875,4812 C950,4900 1050,5000 1100,5028"/><text class="lb" x="987" y="4862">has result</text></g>
<g><path class="e" d="M882,4802 C950,4830 1050,4860 1097,4882"/><text class="lb" x="987" y="4819">has result</text></g>
<g><path class="e" d="M878,4782 C950,4680 1010,4500 1050,4400 L1108,4233"/><text class="lb" x="987" y="4775">has result</text></g>
<g><path class="e" d="M876,4781 C940,4650 1040,4460 1106,4373"/><text class="lb" x="987" y="4713">has result</text></g>
<g><path class="e" d="M863,4255 L863,4776"/></g>
<g><path class="e" d="M1136,4893 C1200,4870 1280,4857 1367,4857"/><text class="lb" x="1253" y="4880">has part</text></g>
<g><path class="e" d="M1131,4911 C1200,4980 1300,4990 1420,4990 C1550,4990 1605,4850 1653,4648"/><text class="lb" x="1389" y="4984">has agent</text></g>
<g><path class="e" d="M1136,5041 C1200,5041 1245,4900 1285,4700 L1381,4570"/><text class="lb" x="1253" y="5063">has result</text></g>
<g><path class="e" d="M1407,4857 L1700,4857 C1800,4857 1875,4600 1925,4364"/><text class="lb" x="1661" y="4880">has result</text></g>
<g><path class="e" d="M620,4028 C660,3900 720,3830 850,3830 L960,3830 C1050,3830 1085,3900 1106,4011"/><text class="lb" x="864" y="3848">has part</text></g>
<g><path class="e" d="M868,4216 C900,4150 950,4120 1000,4140 C1050,4160 1080,4180 1100,4202"/><text class="lb" x="1116" y="4133">has part</text></g>
<g><path class="e" d="M876,4250 C930,4330 990,4354 1096,4354"/><text class="lb" x="989" y="4377">has part</text></g>
<g><path class="e" d="M870,4216 C920,4100 1000,4030 1096,4030"/><text class="lb" x="989" y="4063">has part</text><text class="lb" x="989" y="3930">has part</text></g>
<g><path class="e" d="M1136,4030 C1200,4030 1240,4100 1270,4250 L1381,4530"/><text class="lb" x="1252" y="4054">has result</text></g>
<g><path class="e" d="M1136,4214 L1480,4214 C1560,4214 1612,4250 1646,4291"/><text class="lb" x="1388" y="4237">has result</text></g>
<g><path class="e" d="M1136,4350 C1250,4312 1350,4306 1639,4306"/><text class="lb" x="1388" y="4328">has part</text></g>
<g><path class="e" d="M1125,4372 C1200,4500 1300,4700 1379,4838"/><text class="lb" x="1252" y="4517">has part</text></g>
<g><path class="e" d="M1401,4422 C1480,4480 1580,4520 1648,4611"/><text class="lb" x="1524" y="4480">has agent</text></g>
<g><path class="e" d="M1406,4550 C1500,4550 1580,4450 1648,4325"/><text class="lb" x="1524" y="4572">has result</text></g>
<g><path class="e" d="M1679,4308 C1780,4310 1850,4325 1909,4340"/><text class="lb" x="1796" y="4328">has result</text></g>
<g><path class="e" d="M869,4216 C900,4050 960,3950 1060,3950 L1750,3950 C1850,3950 1900,4100 1926,4324"/><text class="lb" x="1388" y="3972">has result</text><text class="lb" x="989" y="4020">has result</text></g>
<g><path class="e" d="M870,4254 C900,4500 960,4690 1100,4690 L1500,4690 C1580,4690 1620,4665 1641,4642"/><text class="lb" x="1252" y="4653">has agent</text></g>
<g><path class="e" d="M1130,3695 C1200,3800 1300,4200 1381,4530"/><text class="lb" x="1254" y="3722">has result</text></g>
</g>
<g id="nodes">
<g id="n_antiviral" class="nd"><circle cx="864" cy="496" r="20"/><text x="864" y="531">antiviral innate immune response</text><text x="864" y="544">[COVID-19]</text></g>
<g id="n_tlr3" class="nd"><circle cx="1659" cy="791" r="20"/><text x="1659" y="826">TLR3 signaling (primitive)</text><text x="1659" y="839">[COVID-19]</text></g>
<g id="n_tlr3p" class="nd"><circle cx="1930" cy="600" r="20"/><text x="1930" y="635">toll-like receptor 3 signaling pathway</text></g>
<g id="n_tlr7" class="nd"><circle cx="1930" cy="739" r="20"/><text x="1930" y="774">TLR7 signaling (primitive)</text><text x="1930" y="787">[COVID-19]</text></g>
<g id="n_tbk1" class="nd"><circle cx="1930" cy="1000" r="20"/><text x="1930" y="1035">TBK1 activation</text><text x="1930" y="1048">[COVID-19]</text></g>
<g id="n_adaptive" class="nd"><circle cx="2976" cy="285" r="20"/><text x="2976" y="320">adaptive immune response</text><text x="2976" y="333">[COVID-19]</text></g>
<g id="n_cytoT" class="nd"><circle cx="3780" cy="210" r="20"/><text x="3780" y="245">cytotoxic T cell apoptotic process</text><text x="3780" y="258">[COVID-19]</text></g>
<g id="n_igprod" class="nd"><circle cx="3251" cy="306" r="20"/><text x="3251" y="341">immunoglobulin production</text><text x="3251" y="354">[COVID-19]</text></g>
<g id="n_nkcell" class="nd"><circle cx="2976" cy="424" r="20"/><text x="2976" y="459">natural killer cell</text></g>
<g id="n_nkmed" class="nd"><circle cx="2699" cy="497" r="20"/><text x="2699" y="532">natural killer cell mediated immunity</text><text x="2699" y="545">[COVID-19]</text></g>
<g id="n_remove" class="nd"><circle cx="3523" cy="562" r="20"/><text x="3523" y="597">removing infected cell</text><text x="3523" y="610">[COVID-19]</text></g>
<g id="n_t1ifnp" class="nd"><circle cx="2976" cy="614" r="20"/><text x="2976" y="649">type I interferon signaling pathway</text></g>
<g id="n_tlr7p" class="nd"><circle cx="2194" cy="669" r="20"/><text x="2194" y="704">toll-like receptor 7 signaling pathway</text></g>
<g id="n_antigen" class="nd"><circle cx="3251" cy="685" r="20"/><text x="3251" y="720">antigen processing and presentation of exogenous peptide antigen via MHC class I</text><text x="3251" y="733">[COVID-19]</text></g>
<g id="n_jak" class="nd"><circle cx="2976" cy="755" r="20"/><text x="2976" y="790">JAK signaling (primitive)</text><text x="2976" y="803">[COVID-19]</text></g>
<g id="n_irf7" class="nd"><circle cx="2194" cy="809" r="20"/><text x="2194" y="844">IRF7 activation</text><text x="2194" y="857">[COVID-19]</text></g>
<g id="n_t1ifns" class="nd"><circle cx="2699" cy="861" r="20"/><text x="2699" y="896">type I interferon signaling (primitive)</text><text x="2699" y="909">[COVID-19]</text></g>
<g id="n_nkact" class="nd"><circle cx="2976" cy="894" r="20"/><text x="2976" y="929">natural killer cell activation</text><text x="2976" y="942">[COVID-19]</text></g>
<g id="n_igneut" class="nd"><circle cx="3251" cy="894" r="20"/><text x="3251" y="929">immunoglobulin-mediated neutralization</text><text x="3251" y="942">[COVID-19]</text></g>
<g id="n_irf3" class="nd"><circle cx="2194" cy="1001" r="20"/><text x="2194" y="1036">IRF3 activation</text><text x="2194" y="1049">[COVID-19]</text></g>
<g id="n_t1ifnprod" class="nd"><circle cx="2442" cy="1001" r="20"/><text x="2442" y="1036">type I interferon production</text><text x="2442" y="1049">[COVID-19]</text></g>
<g id="n_ifna" class="nd"><circle cx="2699" cy="1042" r="20"/><text x="2699" y="1077">interferon-alpha production</text><text x="2699" y="1090">[COVID-19]</text></g>
<g id="n_stat1" class="nd"><circle cx="3251" cy="1034" r="20"/><text x="3251" y="1069">STAT1 signaling</text><text x="3251" y="1082">[COVID-19]</text></g>
<g id="n_stat1p" class="nd"><circle cx="3523" cy="1034" r="20"/><text x="3523" y="1069">STAT1 signal transduction pathway</text></g>
<g id="n_mhc" class="nd"><circle cx="2976" cy="1185" r="20"/><text x="2976" y="1220">positive regulation of MHC class I biosynthetic process</text><text x="2976" y="1233">[COVID-19]</text></g>
<g id="n_ifnb" class="nd"><circle cx="2699" cy="1356" r="20"/><text x="2699" y="1391">interferon-beta production</text><text x="2699" y="1404">[COVID-19]</text></g>
<g id="n_pkr" class="nd"><circle cx="1389" cy="1305" r="20"/><text x="1389" y="1340">PKR signaling (primitive)</text><text x="1389" y="1353">[COVID-19]</text></g>
<g id="n_pkrp" class="nd"><circle cx="1659" cy="1305" r="20"/><text x="1659" y="1340">PKR signaling pathway</text></g>
<g id="n_cyto" class="nd"><circle cx="1116" cy="1491" r="20"/><text x="1083" y="1526">cytoplasmic cytoplasmic pattern recognition receptor signaling in response to virus</text><text x="1116" y="1539">[COVID-19]</text></g>
<g id="n_mda5" class="nd"><circle cx="1389" cy="1466" r="20"/><text x="1389" y="1501">MDA-5 signaling</text><text x="1389" y="1514">[COVID-19]</text></g>
<g id="n_mda5p" class="nd"><circle cx="1659" cy="1444" r="20"/><text x="1659" y="1479">MDA-5 signaling pathway</text></g>
<g id="n_rigip" class="nd"><circle cx="1659" cy="1584" r="20"/><text x="1659" y="1619">RIG-I signaling pathway</text></g>
<g id="n_rigi" class="nd"><circle cx="1389" cy="1666" r="20"/><text x="1389" y="1701">RIG-I signaling</text><text x="1389" y="1714">[COVID-19]</text></g>
<g id="n_mavs" class="nd"><circle cx="1659" cy="1735" r="20"/><text x="1659" y="1770">MAVS complex assembly</text><text x="1659" y="1783">[coronavirus infectious disease]</text></g>
<g id="n_nfkb" class="nd"><circle cx="1929" cy="1714" r="20"/><text x="1929" y="1749">NfkB signaling</text><text x="1929" y="1762">[COVID-19]</text></g>
<g id="n_inflam" class="nd"><circle cx="2194" cy="1714" r="20"/><text x="2194" y="1749">inflammatory response (severe)</text><text x="2194" y="1762">[COVID-19 with ARDS]</text></g>
<g id="n_cprp" class="nd"><circle cx="1389" cy="1806" r="20"/><text x="1389" y="1841">cytoplasmic pattern recognition receptor signaling pathway in response to virus</text></g>
<g id="n_angp" class="nd"><circle cx="1659" cy="1876" r="20"/><text x="1659" y="1911">angiotensin-activated signaling pathway</text></g>
<g id="n_vaso" class="nd"><circle cx="1659" cy="2016" r="20"/><text x="1659" y="2051">vasoconstriction</text><text x="1659" y="2064">[COVID-19 with ARDS]</text></g>
<g id="n_tnfp" class="nd"><circle cx="1929" cy="2064" r="20"/><text x="1929" y="2099">tumor necrosis factor-mediated signaling pathway</text></g>
<g id="n_sars" class="nd"><circle cx="1659" cy="2158" r="20"/><text x="1659" y="2193">SARS-CoV-2</text></g>
<g id="n_micro" class="nd"><circle cx="1929" cy="2205" r="20"/><text x="1929" y="2240">microthrombus formation</text><text x="1929" y="2253">[COVID-19 with ARDS]</text></g>
<g id="n_negang" class="nd"><circle cx="863" cy="2298" r="20"/><text x="850" y="2333">negative regulation of Angiotensin II hydrolysis (severe)</text><text x="863" y="2346">[COVID-19 with ARDS]</text></g>
<g id="n_angacc" class="nd"><circle cx="1116" cy="2298" r="20"/><text x="1116" y="2333">Angiotensin II accumulation (severe)</text><text x="1116" y="2346">[COVID-19 with ARDS]</text></g>
<g id="n_angsig" class="nd"><circle cx="1389" cy="2298" r="20"/><text x="1389" y="2333">angiotensin signaling</text><text x="1389" y="2346">[COVID-19 with ARDS]</text></g>
<g id="n_tnf" class="nd"><circle cx="1659" cy="2647" r="20"/><text x="1659" y="2682">TNF signaling</text><text x="1659" y="2695">[COVID-19 with ARDS]</text></g>
<g id="n_macact" class="nd"><circle cx="2444" cy="1803" r="20"/><text x="2444" y="1838">macrophage activation involved in immune response</text><text x="2444" y="1851">[COVID-19 with ARDS]</text></g>
<g id="n_macil8" class="nd"><circle cx="2700" cy="1803" r="20"/><text x="2700" y="1838">macrophage interleukin-8 production</text><text x="2700" y="1851">[COVID-19 with ARDS]</text></g>
<g id="n_macro" class="nd"><circle cx="2977" cy="1723" r="20"/><text x="2977" y="1758">macrophage</text></g>
<g id="n_neut" class="nd"><circle cx="3252" cy="1753" r="20"/><text x="3252" y="1788">neutrophil</text></g>
<g id="n_neutchem" class="nd"><circle cx="2977" cy="1873" r="20"/><text x="2977" y="1908">neutrophil chemotaxis</text><text x="2977" y="1921">[COVID-19 with ARDS]</text></g>
<g id="n_neutcyt" class="nd"><circle cx="3252" cy="1995" r="20"/><text x="3252" y="2030">neutrophil mediated cytotoxicity</text><text x="3252" y="2043">[COVID-19 with ARDS]</text></g>
<g id="n_netosis" class="nd"><circle cx="3523" cy="2034" r="20"/><text x="3523" y="2069">netosis</text><text x="3523" y="2082">[COVID-19 with ARDS]</text></g>
<g id="n_cytgene" class="nd"><circle cx="2444" cy="2086" r="20"/><text x="2444" y="2121">Inflammatory cytokine gene expression (severe)</text><text x="2444" y="2134">[COVID-19 with ARDS]</text></g>
<g id="n_il6prod" class="nd"><circle cx="2700" cy="2086" r="20"/><text x="2700" y="2121">interleukin-6 production (severe)</text><text x="2700" y="2134">[COVID-19 with ARDS]</text></g>
<g id="n_ck" class="nd"><circle cx="4050" cy="1993" r="20"/><text x="4050" y="2028">increasing creatine kinase concentration</text><text x="4050" y="2041">[COVID-19 with ARDS]</text></g>
<g id="n_paf" class="nd"><circle cx="4050" cy="2145" r="20"/><text x="4050" y="2180">platelet activating factor biosynthetic process (very high)</text><text x="4050" y="2193">[COVID-19 wuth ARDS]</text></g>
<g id="n_alt" class="nd"><circle cx="4050" cy="2286" r="20"/><text x="4050" y="2321">increasing blood ALT concentration</text><text x="4050" y="2334">[COVID-19 with ARDS]</text></g>
<g id="n_celldeath" class="nd"><circle cx="3778" cy="2378" r="20"/><text x="3778" y="2413">cell death (severe)</text><text x="3778" y="2426">[COVID-19 with ARDS]</text></g>
<g id="n_ast" class="nd"><circle cx="4050" cy="2425" r="20"/><text x="4050" y="2460">increasing blood AST concentration</text><text x="4050" y="2473">[COVID-19 with ARDS]</text></g>
<g id="n_clot" class="nd"><circle cx="4557" cy="2266" r="20"/><text x="4557" y="2301">blood clot</text></g>
<g id="n_ddimer" class="nd"><circle cx="4557" cy="2406" r="20"/><text x="4557" y="2441">increasing D-dimer concentration</text><text x="4557" y="2454">[COVID-19 with ARDS]</text></g>
<g id="n_bloodcoag" class="nd"><circle cx="4299" cy="2552" r="20"/><text x="4299" y="2587">blood coagulation (very high)</text><text x="4299" y="2600">[COVID-19 with ARDS]</text></g>
<g id="n_fibrin" class="nd"><circle cx="4050" cy="2565" r="20"/><text x="4050" y="2600">fibrinolysis (very low)</text><text x="4050" y="2613">[COVID-19 with ARDS]</text></g>
<g id="n_pospla" class="nd"><circle cx="4050" cy="2719" r="20"/><text x="4050" y="2754">positive regulation of platelet aggregation</text><text x="4050" y="2767">[COVID-19 with ARDS]</text></g>
<g id="n_poscoag" class="nd"><circle cx="3778" cy="2797" r="20"/><text x="3778" y="2832">positive regulation of blood coagulation</text><text x="3778" y="2845">[COVID-19 with ARDS]</text></g>
<g id="n_platact" class="nd"><circle cx="4557" cy="2960" r="20"/><text x="4557" y="2995">platelet activation (very high)</text><text x="4557" y="3008">[COVID-19 with ARDS]</text></g>
<g id="n_platelet" class="nd"><circle cx="5085" cy="2960" r="20"/><text x="5085" y="2995">platelet</text></g>
<g id="n_plaagg" class="nd"><circle cx="4810" cy="3013" r="20"/><text x="4810" y="3048">platelet aggregation</text><text x="4810" y="3061">[COVID-19 with ARDS]</text></g>
<g id="n_il1bprod" class="nd"><circle cx="3523" cy="2377" r="20"/><text x="3523" y="2412">IL-1beta production</text><text x="3523" y="2425">[COVID-19 with ARDS]</text></g>
<g id="n_inflasome" class="nd"><circle cx="2977" cy="2563" r="20"/><text x="2977" y="2598">inflammasome activation</text><text x="2977" y="2611">[COVID-19 with ARDS]</text></g>
<g id="n_il1bproc" class="nd"><circle cx="3252" cy="2563" r="20"/><text x="3252" y="2598">IL-1beta processing</text><text x="3252" y="2611">[COVID-19 with ARDS]</text></g>
<g id="n_tnfprod" class="nd"><circle cx="2444" cy="2731" r="20"/><text x="2444" y="2766">tumor necrosis factor production (severe)</text><text x="2444" y="2779">[COVID-19 with ARDS]</text></g>
<g id="n_mito" class="nd"><circle cx="2977" cy="2811" r="20"/><text x="2977" y="2846">mitochondrial dysfunction</text><text x="2977" y="2859">[COVID-19 with ARDS]</text></g>
<g id="n_cytc" class="nd"><circle cx="3252" cy="2811" r="20"/><text x="3252" y="2846">release of cytochrome c from mitochondria</text><text x="3252" y="2859">[COVID-19 with ARDS]</text></g>
<g id="n_apop" class="nd"><circle cx="3523" cy="2811" r="20"/><text x="3523" y="2846">apoptotic process (severe)</text><text x="3523" y="2859">[COVID-19 with ARDS]</text></g>
<g id="n_iron" class="nd"><circle cx="1930" cy="3083" r="20"/><text x="1930" y="3118">Iron accumulation</text><text x="1930" y="3131">[COVID-19 with ARDS]</text></g>
<g id="n_ros" class="nd"><circle cx="2195" cy="3083" r="20"/><text x="2195" y="3118">reactive oxygen species biosynthetic process</text><text x="2195" y="3131">[COVID-19 with ARDS]</text></g>
<g id="n_il6" class="nd"><circle cx="2975" cy="3263" r="20"/><text x="2975" y="3298">IL-6 signaling(severe)</text><text x="2975" y="3311">[COVID-19 with ARDS]</text></g>
<g id="n_th17diff" class="nd"><circle cx="3250" cy="3183" r="20"/><text x="3250" y="3218">T-helper 17 cell differentiation</text><text x="3250" y="3231">[COVID-19 with ARDS]</text></g>
<g id="n_il6p" class="nd"><circle cx="3250" cy="3387" r="20"/><text x="3250" y="3422">interleukin-6-mediated signaling pathway</text></g>
<g id="n_dna" class="nd"><circle cx="2443" cy="3444" r="20"/><text x="2443" y="3479">release of DNA from mitochondria</text><text x="2443" y="3492">[COVID-19 with ARDS]</text></g>
<g id="n_tlr9" class="nd"><circle cx="2700" cy="3444" r="20"/><text x="2700" y="3479">TLR9 signaling</text><text x="2700" y="3492">[COVID-19 with ARDS]</text></g>
<g id="n_tlr9p" class="nd"><circle cx="2975" cy="3422" r="20"/><text x="2975" y="3457">toll-like receptor 9 signaling pathway</text></g>
<g id="n_negfib" class="nd"><circle cx="3779" cy="3082" r="20"/><text x="3779" y="3117">negative regulation of fibrinolysis</text><text x="3779" y="3130">[COVID-19 with ARDS]</text></g>
<g id="n_th17cyt" class="nd"><circle cx="3522" cy="3183" r="20"/><text x="3522" y="3218">T-helper 17 cell cytokine production</text><text x="3522" y="3231">[COVID-19 with ARDS]</text></g>
<g id="n_th17" class="nd"><circle cx="3779" cy="3223" r="20"/><text x="3779" y="3258">T-helper 17 cell</text></g>
<g id="n_coagp" class="nd"><circle cx="4557" cy="3152" r="20"/><text x="4557" y="3187">blood coagulation pathway</text></g>
<g id="n_type2" class="nd"><circle cx="4299" cy="3152" r="20"/><text x="4299" y="3187">Type II alveolar epithelium cell proliferation</text><text x="4299" y="3200">[COVID-19 with ARDS]</text></g>
<g id="n_type1" class="nd"><circle cx="4050" cy="3244" r="20"/><text x="4050" y="3279">type I alveolar epithelial cell injury</text><text x="4050" y="3292">[COVID-19 with ARDS]</text></g>
<g id="n_storm" class="nd"><circle cx="3779" cy="3362" r="20"/><text x="3779" y="3397">cytokine storm</text><text x="3779" y="3410">[COVID-19 with ARDS]</text></g>
<g id="n_leakalv" class="nd"><circle cx="4299" cy="3315" r="20"/><text x="4299" y="3350">leaking fluid to alveolar space</text><text x="4299" y="3363">[COVID-19 with ARDs]</text></g>
<g id="n_hyaline" class="nd"><circle cx="4557" cy="3293" r="20"/><text x="4557" y="3328">pulmonary hyaline membrane formation</text><text x="4557" y="3341">[COVOD-19 with ARDS]</text></g>
<g id="n_ggo" class="nd"><circle cx="4810" cy="3223" r="20"/><text x="4810" y="3258">Ground-glass opacification on pulmonary HRCT</text><text x="4810" y="3271">[COVID-19]</text></g>
<g id="n_resp" class="nd"><circle cx="4810" cy="3362" r="20"/><text x="4810" y="3397">respiratory dysfunction</text><text x="4810" y="3410">[COVID-19 with ARDs]</text></g>
<g id="n_edema" class="nd"><circle cx="4557" cy="3432" r="20"/><text x="4557" y="3467">pulmonary interstitium edema</text><text x="4557" y="3480">[COVID-19 with ARDS]</text></g>
<g id="n_lung" class="nd"><circle cx="4810" cy="3502" r="20"/><text x="4810" y="3537">increasing lung weight</text><text x="4810" y="3550">[COVID-19 with ARDS]</text></g>
<g id="n_vasc" class="nd"><circle cx="4050" cy="3524" r="20"/><text x="4050" y="3559">vascular endothelial cell damage</text><text x="4050" y="3572">[COVID-19 with ARDS]</text></g>
<g id="n_leakint" class="nd"><circle cx="4299" cy="3524" r="20"/><text x="4299" y="3559">leaking fluid to pulmonary interstitium</text><text x="4299" y="3572">[COVID-19 with ARDs]</text></g>
<g id="n_il17p" class="nd"><circle cx="4050" cy="3664" r="20"/><text x="4050" y="3699">interleukin-17-mediated signaling pathway</text></g>
<g id="n_il17" class="nd"><circle cx="3779" cy="3735" r="20"/><text x="3779" y="3770">IL-17 signaling</text><text x="3779" y="3783">[COVID-19 with ARDS]</text></g>
<g id="n_infilt" class="nd"><circle cx="4557" cy="3690" r="20"/><text x="4557" y="3725">inflammatory cell infiltration to pulmonary interstitium</text><text x="4557" y="3738">[COVID-19 with ARDS]</text></g>
<g id="n_autoimm" class="nd"><circle cx="4050" cy="3831" r="20"/><text x="4050" y="3866">autoimmune response</text><text x="4050" y="3879">[COVID-19 with ARDS]</text></g>
<g id="n_transport" class="nd"><circle cx="4299" cy="3831" r="20"/><text x="4299" y="3866">transport of virus</text><text x="4299" y="3879">[COVID-19]</text></g>
<g id="n_release" class="nd"><circle cx="4557" cy="3831" r="20"/><text x="4557" y="3866">viral release from host cell</text><text x="4557" y="3879">[COVID-19]</text></g>
<g id="n_vei" class="nd"><circle cx="1116" cy="3680" r="20"/><text x="1116" y="3715">viral entry-innate immune response imbalance</text><text x="1116" y="3728">[COVID-19 (severe)]</text></g>
<g id="n_entryrec" class="nd"><circle cx="611" cy="4048" r="20"/><text x="611" y="4083">entry receptor-mediated virion attachment to host cell</text><text x="611" y="4096">[COVID-19 with ARDS]</text></g>
<g id="n_hcsrb" class="nd"><circle cx="1116" cy="4030" r="20"/><text x="1116" y="4065">host cell surface receptor binding</text><text x="1116" y="4078">[COVID-19]</text></g>
<g id="n_ventry" class="nd"><circle cx="863" cy="4235" r="20"/><text x="863" y="4270">viral entry into host cell</text><text x="863" y="4283">[COVID-19]</text></g>
<g id="n_s2" class="nd"><circle cx="1116" cy="4214" r="20"/><text x="1116" y="4249">clevage of viral spike S2 protein</text><text x="1116" y="4262">[COVID-19]</text></g>
<g id="n_fusendo" class="nd"><circle cx="1659" cy="4306" r="20"/><text x="1659" y="4341">fusion of virus membrane with host endosome membrane</text><text x="1659" y="4354">[COVID-19]</text></g>
<g id="n_memfus" class="nd"><circle cx="1116" cy="4354" r="20"/><text x="1116" y="4389">membrane fusion involved in viral entry into host cell</text><text x="1116" y="4402">[COVID-19]</text></g>
<g id="n_vinf" class="nd"><circle cx="1386" cy="4409" r="20"/><text x="1386" y="4444">virus infection</text><text x="1386" y="4457">[COVID-19]</text></g>
<g id="n_endo" class="nd"><circle cx="1386" cy="4550" r="20"/><text x="1386" y="4585">receptor-mediated endocytosis of virus by host cell</text><text x="1386" y="4598">[COVID-19]</text></g>
<g id="n_beta" class="nd"><circle cx="1659" cy="4628" r="20"/><text x="1659" y="4663">Betacoronavirus</text></g>
<g id="n_uncoat" class="nd"><circle cx="1929" cy="4344" r="20"/><text x="1929" y="4379">uncoating of virus</text><text x="1929" y="4392">[COVID-19]</text></g>
<g id="n_sprot" class="nd"><circle cx="863" cy="4796" r="20"/><text x="863" y="4831">clevage of viral spike S protein</text><text x="863" y="4844">[COVID-19]</text></g>
<g id="n_fusplasma" class="nd"><circle cx="1387" cy="4857" r="20"/><text x="1387" y="4892">fusion of virus membrane with host plasma membrane</text><text x="1387" y="4905">[COVID-19]</text></g>
<g id="n_perm" class="nd"><circle cx="1116" cy="4897" r="20"/><text x="1116" y="4932">viral entry via permeabilization of host membrane</text><text x="1116" y="4945">[COVID-19]</text></g>
<g id="n_vattach" class="nd"><circle cx="370" cy="4952" r="20"/><text x="370" y="4987">virion attachment to host cell</text><text x="370" y="5000">[COVID-19]</text></g>
<g id="n_hcsb" class="nd"><circle cx="863" cy="5019" r="20"/><text x="863" y="5054">host cell surface binding</text><text x="863" y="5067">[COVID-19]</text></g>
<g id="n_vbhcsr" class="nd"><circle cx="1116" cy="5041" r="20"/><text x="1116" y="5076">virion binding with host cell surface receptor</text><text x="1116" y="5089">[COVID-19]</text></g>
<g id="n_vbind" class="nd"><circle cx="611" cy="5122" r="20"/><text x="611" y="5157">virion binding</text><text x="611" y="5170">[COVID-19]</text></g>
<g id="n_vprolif" class="nd"><circle cx="126" cy="5135" r="20"/><text x="126" y="5170">viral proliferation</text><text x="126" y="5183">[coronavirus infectious disease (imbalance)]</text></g>
<g id="n_symb" class="nd"><circle cx="370" cy="5430" r="20"/><text x="370" y="5465">changing symbiotic balance between host and virus</text><text x="370" y="5478">[coronavirus infectious disease(imbalance)]</text></g>
<g id="n_polypro" class="nd"><circle cx="2698" cy="4217" r="20"/><text x="2698" y="4252">viral polyprotein processing</text><text x="2698" y="4265">[COVID-19]</text></g>
<g id="n_transrc" class="nd"><circle cx="2443" cy="4677" r="20"/><text x="2443" y="4712">translation for viral replication complex</text><text x="2443" y="4725">[COVID-19]</text></g>
<g id="n_replicase" class="nd"><circle cx="2698" cy="4795" r="20"/><text x="2698" y="4830">viral RNA replicase translation</text><text x="2698" y="4843">[COVID-19]</text></g>
<g id="n_posrep" class="nd"><circle cx="2193" cy="4792" r="20"/><text x="2193" y="4827">positive stranded viral RNA replication</text><text x="2193" y="4840">[COVID-19]</text></g>
<g id="n_genome" class="nd"><circle cx="2973" cy="4586" r="20"/><text x="2973" y="4621">viral genome expression</text><text x="2973" y="4634">[COVID-19]</text></g>
<g id="n_negtrans" class="nd"><circle cx="3520" cy="4645" r="20"/><text x="3520" y="4680">negative stranded viral RNA transcription</text><text x="3520" y="4693">[COVID-19]</text></g>
<g id="n_fulllen" class="nd"><circle cx="3252" cy="4741" r="20"/><text x="3252" y="4776">full length negative stranded viral mRNA biosynthetic process</text><text x="3252" y="4789">[COVID-19]</text></g>
<g id="n_protproc" class="nd"><circle cx="3777" cy="4759" r="20"/><text x="3777" y="4794">viral protein processing</text><text x="3777" y="4807">[COVID-19]</text></g>
<g id="n_assembly" class="nd"><circle cx="4050" cy="4570" r="20"/><text x="4050" y="4605">virion assembly</text><text x="4050" y="4618">[COVID-19]</text></g>
<g id="n_capsid" class="nd"><circle cx="4300" cy="4775" r="20"/><text x="4300" y="4810">viral capsid assembly</text><text x="4300" y="4823">[COVID-19]</text></g>
<g id="n_subgen" class="nd"><circle cx="3252" cy="4940" r="20"/><text x="3252" y="4975">subgenomic negative stranded viral mRNA biosynthetic process</text><text x="3252" y="4988">[COVID-19]</text></g>
<g id="n_vtrans" class="nd"><circle cx="3520" cy="4940" r="20"/><text x="3520" y="4975">viral translation</text><text x="3520" y="4988">[COVID-19]</text></g>
<g id="n_replcomplex" class="nd"><circle cx="2973" cy="5324" r="20"/><text x="2973" y="5359">viral replication complex formation and maintenance</text><text x="2973" y="5372">[COVID-19]</text></g>
</g>
</g>
</svg>
